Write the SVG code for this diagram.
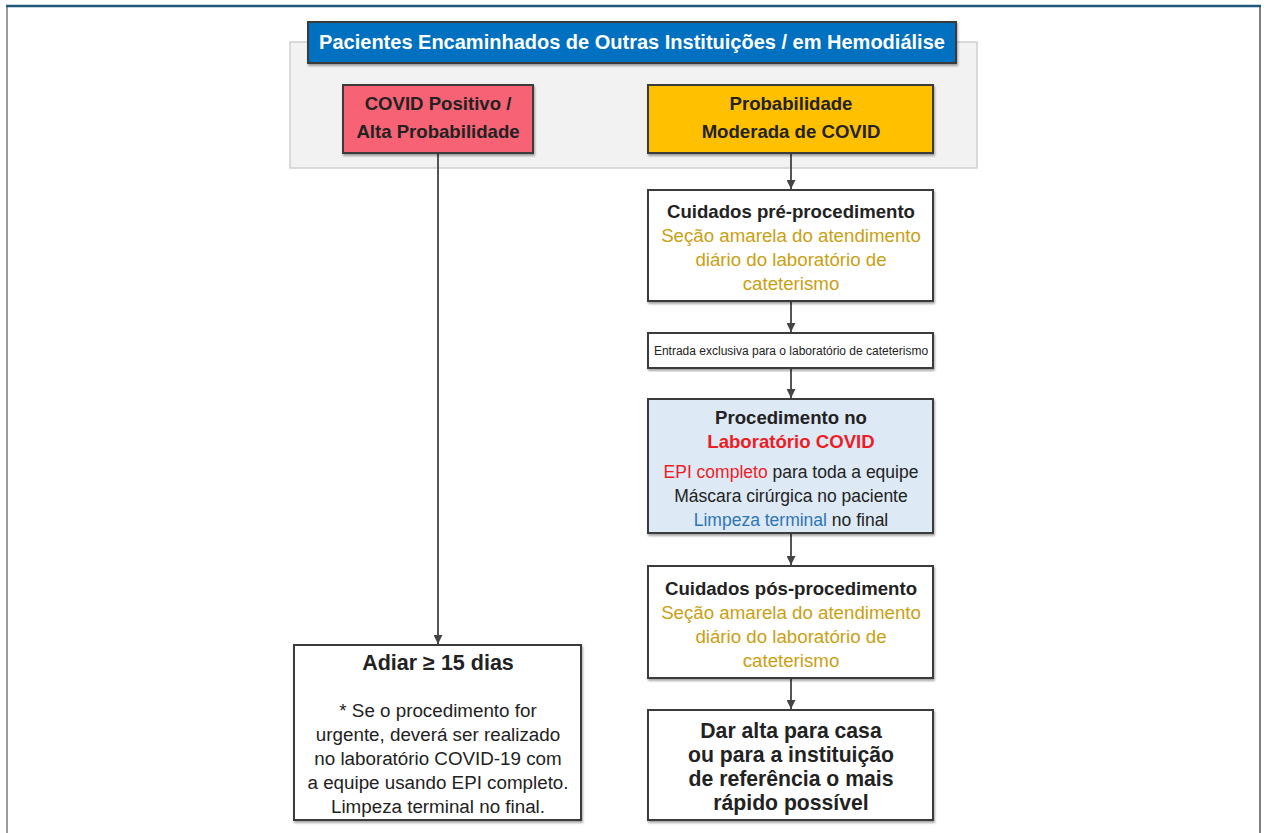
<svg xmlns="http://www.w3.org/2000/svg" width="1267" height="833" viewBox="0 0 1267 833">
  <defs>
    <filter id="shadow" x="-5%" y="-5%" width="110%" height="115%">
      <feDropShadow dx="1" dy="2" stdDeviation="1.2" flood-color="#000" flood-opacity="0.35"/>
    </filter>
    <marker id="arrow" viewBox="0 0 10 10" refX="10" refY="5" markerWidth="9" markerHeight="9" markerUnits="userSpaceOnUse" orient="auto">
      <path d="M0,0 L10,5 L0,10 z" fill="#444"/>
    </marker>
  </defs>
  <style>
    text { font-family: "Liberation Sans", Arial, sans-serif; text-anchor: middle; }
    .box { stroke: #3a3a3a; stroke-width: 2; filter: url(#shadow); }
    .white { fill: #ffffff; }
    .b { font-weight: bold; fill: #222; }
    .t18 { font-size: 18.6px; }
    .t21 { font-size: 21.2px; }
    .gold { fill: #c9a012; font-size: 18.7px; }
    .reg { fill: #222; font-size: 17.5px; }
    .note { fill: #222; font-size: 18.8px; }
    .red { fill: #ee1c25; }
    .blue { fill: #2e75b6; }
    .conn { stroke: #555; stroke-width: 2; fill: none; marker-end: url(#arrow); }
  </style>

  <rect width="1267" height="833" fill="#ffffff"/>

  <!-- page frame -->
  <line x1="7" y1="833" x2="7" y2="7" stroke="#7a7a7a" stroke-width="1.5"/>
  <line x1="1260" y1="833" x2="1260" y2="7" stroke="#555" stroke-width="1.5"/>
  <line x1="6" y1="6" x2="1261" y2="6" stroke="#1f5878" stroke-width="2.5"/>

  <!-- grey band behind the entry level -->
  <rect id="entry-band" x="290" y="42" width="687" height="126" fill="#f2f2f2" stroke="#cfcfcf" stroke-width="1.5"/>

  <!-- connectors -->
  <g id="connectors">
    <line class="conn" x1="438" y1="154" x2="438" y2="644"/>
    <line class="conn" x1="791" y1="154" x2="791" y2="189"/>
    <line class="conn" x1="791" y1="302" x2="791" y2="332"/>
    <line class="conn" x1="791" y1="369" x2="791" y2="398"/>
    <line class="conn" x1="791" y1="534" x2="791" y2="565"/>
    <line class="conn" x1="791" y1="679" x2="791" y2="709"/>
  </g>

  <g id="header">
    <rect class="box" x="308" y="22" width="648" height="41" fill="#0070c0" stroke="#1b3050"/>
    <text x="632" y="49" font-size="20" font-weight="bold" fill="#ffffff">Pacientes Encaminhados de Outras Instituições / em Hemodiálise</text>
  </g>

  <g id="covid-positivo">
    <rect class="box" x="343" y="85" width="190" height="68" fill="#f76474"/>
    <text class="b t18" x="438" y="110">COVID Positivo /</text>
    <text class="b t18" x="438" y="138">Alta Probabilidade</text>
  </g>

  <g id="probabilidade-moderada">
    <rect class="box" x="648" y="85" width="285" height="68" fill="#ffc000"/>
    <text class="b t18" x="791" y="110">Probabilidade</text>
    <text class="b t18" x="791" y="138">Moderada de COVID</text>
  </g>

  <g id="pre-procedimento">
    <rect class="box white" x="648" y="190" width="285" height="111"/>
    <text class="b t18" x="791" y="218">Cuidados pré-procedimento</text>
    <text class="gold" x="791" y="242">Seção amarela do atendimento</text>
    <text class="gold" x="791" y="266">diário do laboratório de</text>
    <text class="gold" x="791" y="290">cateterismo</text>
  </g>

  <g id="entrada-exclusiva">
    <rect class="box white" x="648" y="333" width="285" height="35"/>
    <text x="791" y="355" font-size="12" fill="#222">Entrada exclusiva para o laboratório de cateterismo</text>
  </g>

  <g id="procedimento">
    <rect class="box" x="648" y="399" width="285" height="134" fill="#dde9f5"/>
    <text class="b t18" x="791" y="424">Procedimento no</text>
    <text class="b t18" x="791" y="448"><tspan class="red">Laboratório COVID</tspan></text>
    <text class="reg" x="791" y="478"><tspan class="red">EPI completo</tspan> para toda a equipe</text>
    <text class="reg" x="791" y="502">Máscara cirúrgica no paciente</text>
    <text class="reg" x="791" y="526"><tspan class="blue">Limpeza terminal</tspan> no final</text>
  </g>

  <g id="pos-procedimento">
    <rect class="box white" x="648" y="566" width="285" height="112"/>
    <text class="b t18" x="791" y="595">Cuidados pós-procedimento</text>
    <text class="gold" x="791" y="619">Seção amarela do atendimento</text>
    <text class="gold" x="791" y="643">diário do laboratório de</text>
    <text class="gold" x="791" y="667">cateterismo</text>
  </g>

  <g id="alta">
    <rect class="box white" x="648" y="710" width="285" height="110"/>
    <text class="b t21" x="791" y="738">Dar alta para casa</text>
    <text class="b t21" x="791" y="762">ou para a instituição</text>
    <text class="b t21" x="791" y="786">de referência o mais</text>
    <text class="b t21" x="791" y="810">rápido possível</text>
  </g>

  <g id="adiar">
    <rect class="box white" x="294" y="645" width="287" height="175"/>
    <text class="b" x="438" y="670" font-size="21.5">Adiar ≥ 15 dias</text>
    <text class="note" x="438" y="717">* Se o procedimento for</text>
    <text class="note" x="438" y="741">urgente, deverá ser realizado</text>
    <text class="note" x="438" y="765">no laboratório COVID-19 com</text>
    <text class="note" x="438" y="789">a equipe usando EPI completo.</text>
    <text class="note" x="438" y="813">Limpeza terminal no final.</text>
  </g>
</svg>
